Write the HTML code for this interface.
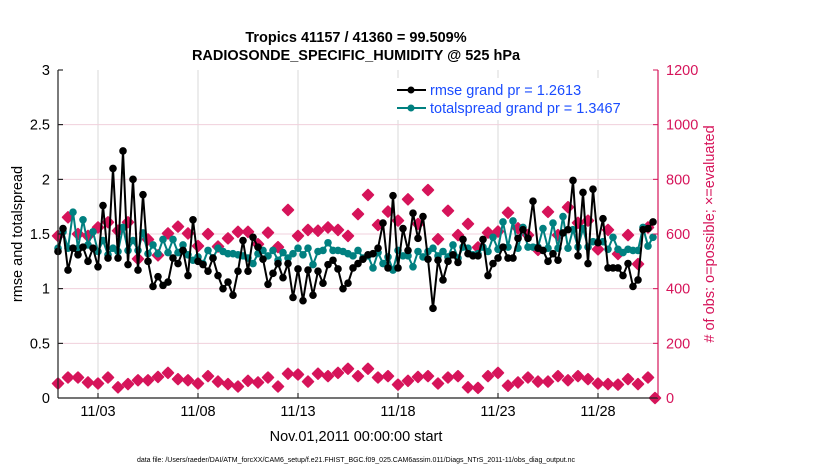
<!DOCTYPE html>
<html><head><meta charset="utf-8"><style>
body{margin:0;background:#fff;}
svg{font-family:"Liberation Sans",sans-serif;}
</style></head><body>
<svg id="chart" width="830" height="470" viewBox="0 0 830 470">
<rect width="830" height="470" fill="#fff"/>
<g id="grid"></g>
<g id="series"></g>
<g id="axes"></g>
<text x="356" y="42" text-anchor="middle" font-size="14.5" font-weight="bold">Tropics 41157 / 41360 = 99.509%</text>
<text x="356" y="60" text-anchor="middle" font-size="14.5" font-weight="bold">RADIOSONDE_SPECIFIC_HUMIDITY @ 525 hPa</text>
<text x="356" y="441" text-anchor="middle" font-size="14.5">Nov.01,2011 00:00:00 start</text>
<text transform="translate(22,234) rotate(-90)" text-anchor="middle" font-size="14.5">rmse and totalspread</text>
<text transform="translate(714,234) rotate(-90)" text-anchor="middle" font-size="14.5" fill="#d6145a"># of obs: o=possible; ×=evaluated</text>
<text x="356" y="462" text-anchor="middle" font-size="7">data file: /Users/raeder/DAI/ATM_forcXX/CAM6_setup/f.e21.FHIST_BGC.f09_025.CAM6assim.011/Diags_NTrS_2011-11/obs_diag_output.nc</text>
<g>
<rect x="387" y="78" width="269" height="42" fill="#fff"/>
<line x1="397" y1="90" x2="426" y2="90" stroke="#000" stroke-width="2"/>
<circle cx="411" cy="90" r="3.5" fill="#000"/>
<text x="430" y="95" font-size="14.5" fill="#1a4cff">rmse grand pr = 1.2613</text>
<line x1="397" y1="108" x2="426" y2="108" stroke="#008080" stroke-width="2"/>
<circle cx="411" cy="108" r="3.5" fill="#008080"/>
<text x="430" y="113" font-size="14.5" fill="#1a4cff">totalspread grand pr = 1.3467</text>
</g>
</svg>
<script>
const leftTicks=[0,0.5,1,1.5,2,2.5,3];
const leftTickLabels=["0","0.5","1","1.5","2","2.5","3"];
const rightTicks=[0,200,400,600,800,1000,1200];
const dayTicks=[2,7,12,17,22,27];
const dayTickLabels=["11/03","11/08","11/13","11/18","11/23","11/28"];
const rmse=[1.34,1.55,1.17,1.37,1.31,1.38,1.25,1.37,1.20,1.76,1.28,2.10,1.28,2.26,1.22,2.00,1.17,1.86,1.25,1.02,1.11,1.03,1.06,1.28,1.23,1.35,1.12,1.63,1.25,1.22,1.16,1.28,1.12,1.00,1.06,0.94,1.16,1.44,1.16,1.47,1.38,1.27,1.04,1.14,1.23,1.10,1.23,0.92,1.18,0.89,1.17,0.94,1.16,1.05,1.22,1.26,1.18,1.00,1.05,1.19,1.23,1.27,1.31,1.32,1.37,1.60,1.19,1.85,1.19,1.55,1.35,1.69,1.46,1.66,1.27,0.82,1.26,1.08,1.25,1.31,1.24,1.45,1.32,1.30,1.30,1.45,1.12,1.23,1.28,1.38,1.28,1.28,1.46,1.54,1.46,1.80,1.37,1.35,1.25,1.32,1.26,1.51,1.54,1.99,1.30,1.88,1.23,1.91,1.42,1.64,1.19,1.19,1.19,1.12,1.23,1.02,1.08,1.54,1.55,1.61];
const spread=[1.37,1.52,1.37,1.70,1.37,1.63,1.40,1.52,1.34,1.44,1.31,1.37,1.34,1.56,1.35,1.44,1.35,1.51,1.32,1.40,1.32,1.45,1.33,1.45,1.33,1.40,1.31,1.26,1.29,1.23,1.35,1.28,1.37,1.34,1.32,1.32,1.31,1.30,1.28,1.23,1.32,1.35,1.30,1.35,1.26,1.33,1.28,1.32,1.37,1.31,1.37,1.22,1.34,1.35,1.42,1.35,1.35,1.34,1.32,1.30,1.35,1.28,1.30,1.19,1.33,1.23,1.29,1.17,1.35,1.30,1.30,1.20,1.34,1.29,1.34,1.37,1.30,1.34,1.29,1.40,1.28,1.38,1.37,1.31,1.32,1.38,1.34,1.47,1.36,1.61,1.38,1.62,1.37,1.56,1.38,1.38,1.38,1.55,1.37,1.60,1.37,1.66,1.37,1.54,1.38,1.55,1.38,1.43,1.43,1.43,1.36,1.47,1.36,1.33,1.36,1.35,1.35,1.56,1.39,1.47];
const possible=[593,661,600,593,624,643,612,643,509,580,522,602,627,602,556,600,554,584,608,608,563,605,552,688,593,615,612,624,615,593,673,743,633,682,649,727,637,761,581,685,596,637,551,605,609,678,621,596,542,681,596,698,641,649,544,615,527,596,490,624];
const lowZ=[68,50,50,65,68,50,80,70,58,58,48,35,55,58,68,45,62,70,78,60,65,50,78,38,40,62,38,45,35,22,45,22,50,45,72,60,48,45,68,50,45,80,82,45,35,75,65,50,62,62,45,58,45,55,68,70,72,55,70,50];
const evaluated=lowZ.map(z=>Math.round(133-1.17*z));
const X0=58,X1=658,Y0=398,Y1=70;
const xDay=d=>X0+(X1-X0)*d/30;
const yL=v=>Y0-(Y0-Y1)*v/3;
const yR=v=>Y0-(Y0-Y1)*v/1200;
const NS="http://www.w3.org/2000/svg";
function mk(tag,attrs,parent){const e=document.createElementNS(NS,tag);for(const k in attrs)e.setAttribute(k,attrs[k]);parent.appendChild(e);return e;}
const grid=document.getElementById('grid'),ser=document.getElementById('series'),ax=document.getElementById('axes');
dayTicks.forEach((d,i)=>{const l=mk('line',{x1:xDay(d),x2:xDay(d),y1:Y1,y2:Y0,stroke:'#d9d9d9','stroke-width':1},grid);


const t=mk('line',{x1:xDay(d),x2:xDay(d),y1:Y0,y2:Y0-5,stroke:'#000'},ax);


const tx=mk('text',{x:xDay(d),y:Y0+18,'text-anchor':'middle','font-size':14.5},ax);tx.textContent=dayTickLabels[i];

});
leftTicks.forEach((v,i)=>{if(v>0&&v<3){const l=mk('line',{x1:X0,x2:X1,y1:yL(v),y2:yL(v),stroke:'#f0d0dc','stroke-width':1},grid);

}
const t=mk('line',{x1:X0,x2:X0+5,y1:yL(v),y2:yL(v),stroke:'#000'},ax);


const tx=mk('text',{x:X0-8,y:yL(v)+5,'text-anchor':'end','font-size':14.5},ax);tx.textContent=leftTickLabels[i];

});
rightTicks.forEach(v=>{const t=mk('line',{x1:X1,x2:X1-5,y1:yR(v),y2:yR(v),stroke:'#d6145a'},ax);


const tx=mk('text',{x:X1+8,y:yR(v)+5,'font-size':14.5,fill:'#d6145a'},ax);tx.textContent=String(v);

});
let a=mk('line',{x1:X0,x2:X0,y1:Y1,y2:Y0,stroke:'#222','stroke-width':1.2},ax);


a=mk('line',{x1:X0,x2:X1,y1:Y0,y2:Y0,stroke:'#222','stroke-width':1.2},ax);


a=mk('line',{x1:X1,x2:X1,y1:Y1,y2:Y0,stroke:'#d6145a','stroke-width':1.2},ax);


function star(cx,cy,name){const r=5.5,s=2.8;const p=[[cx,cy-r],[cx+s,cy-s],[cx+r,cy],[cx+s,cy+s],[cx,cy+r],[cx-s,cy+s],[cx-r,cy],[cx-s,cy-s]].map(q=>q.join(',')).join(' ');
const e=mk('polygon',{points:p,fill:'#d6145a',stroke:'#d6145a','stroke-width':1.5,'stroke-linejoin':'round'},ser);

}
possible.forEach((v,j)=>star(xDay(j*0.5),yR(v),'obs-possible-marker'));
evaluated.forEach((v,j)=>star(xDay(j*0.5),yR(v),'obs-evaluated-marker'));
star(xDay(29.85),yR(0),'obs-final-zero-marker');
function line(vals,color,name){const pts=vals.map((v,i)=>xDay(i*0.25)+','+yL(v)).join(' ');
const pl=mk('polyline',{points:pts,fill:'none',stroke:color,'stroke-width':2},ser);


vals.forEach((v,i)=>{const c=mk('circle',{cx:xDay(i*0.25),cy:yL(v),r:3.8,fill:color},ser);

});}
line(spread,'#008080','totalspread');
line(rmse,'#000','rmse');
</script>
</body></html>
